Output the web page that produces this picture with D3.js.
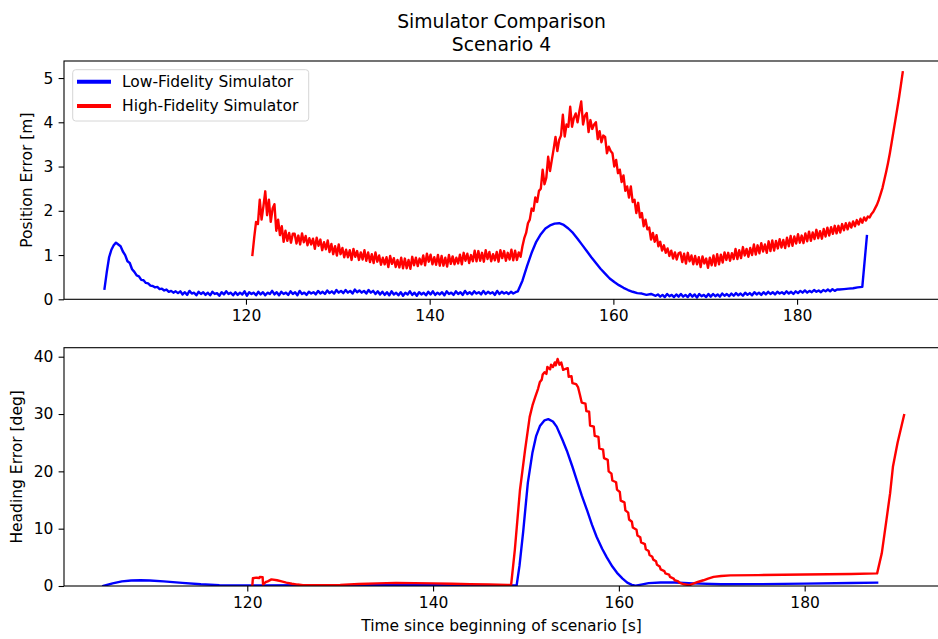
<!DOCTYPE html>
<html>
<head>
<meta charset="utf-8">
<script src="https://cdn.jsdelivr.net/npm/d3@7"></script>
<style>
	body { margin: 0; background: #fff; }
	svg { display: block; font-family: "DejaVu Sans", sans-serif; }
</style>
</head>
<body>
<svg id="chart" width="938" height="639"></svg>
<script>
// position error, low fidelity: pieces of a regular time grid (start, step, values)
let lowPosDecay = [
	0.24, 0.62, 0.95, 1.12, 1.22, 1.28, 1.24, 1.20, 1.08, 1.00,
	0.86, 0.82, 0.68, 0.62, 0.54, 0.52, 0.44, 0.43, 0.37, 0.36,
	0.31, 0.30, 0.27, 0.28, 0.23, 0.24, 0.20, 0.22, 0.17, 0.19,
	0.15, 0.18, 0.14
];
let lowPosFlat = [
	0.18, 0.11, 0.16, 0.10, 0.19, 0.13, 0.15, 0.09, 0.17, 0.12, 0.16, 0.10,
	0.15, 0.09, 0.17, 0.12, 0.14, 0.08, 0.16, 0.11, 0.18, 0.12, 0.15, 0.09,
	0.16, 0.10, 0.15, 0.11, 0.18, 0.08, 0.16, 0.12, 0.15, 0.09, 0.17, 0.11,
	0.16, 0.09, 0.15, 0.12, 0.19, 0.11, 0.16, 0.09, 0.17, 0.12, 0.15, 0.10,
	0.18, 0.12, 0.16, 0.09, 0.19, 0.12, 0.15, 0.10, 0.17, 0.13, 0.16, 0.11,
	0.19, 0.13, 0.17, 0.12, 0.20, 0.14, 0.18, 0.13, 0.21, 0.15, 0.19, 0.14,
	0.21, 0.15, 0.19, 0.13, 0.22, 0.16, 0.20, 0.15, 0.19, 0.13, 0.21, 0.15,
	0.19, 0.12, 0.18, 0.11, 0.17, 0.10, 0.16, 0.09, 0.18, 0.11, 0.15, 0.09,
	0.16, 0.08, 0.15, 0.11, 0.18, 0.10, 0.15, 0.08, 0.16, 0.11, 0.15, 0.09,
	0.17, 0.11, 0.18, 0.10, 0.15, 0.11, 0.16, 0.09, 0.18, 0.12, 0.15, 0.10,
	0.18, 0.12, 0.16, 0.10, 0.19, 0.12, 0.16, 0.11, 0.18, 0.13, 0.16, 0.11,
	0.19, 0.12, 0.17, 0.13, 0.16, 0.10, 0.19, 0.12, 0.17, 0.13, 0.16, 0.12,
	0.17, 0.13, 0.16, 0.18
];
let lowPosHump = [
	0.42, 0.75, 1.05, 1.30, 1.47, 1.60, 1.67, 1.71, 1.72, 1.68,
	1.60, 1.50, 1.37, 1.23, 1.09, 0.95, 0.82, 0.69, 0.58, 0.47,
	0.39, 0.32, 0.26, 0.21, 0.17, 0.14, 0.13, 0.10, 0.12, 0.08
];
let lowPosLate = [
	0.11, 0.06, 0.10, 0.05, 0.12, 0.07, 0.10, 0.05, 0.11, 0.06, 0.12, 0.06,
	0.10, 0.05, 0.12, 0.06, 0.11, 0.04, 0.12, 0.07, 0.10, 0.05, 0.12, 0.06,
	0.12, 0.07, 0.11, 0.06, 0.13, 0.08, 0.12, 0.07, 0.13, 0.08, 0.14, 0.09,
	0.13, 0.08, 0.15, 0.10, 0.14, 0.09, 0.16, 0.11, 0.15, 0.10, 0.16, 0.11,
	0.17, 0.12, 0.16, 0.11, 0.17, 0.13, 0.16, 0.12, 0.18, 0.13, 0.17, 0.12,
	0.18, 0.14, 0.19, 0.15, 0.20, 0.15, 0.19, 0.16, 0.21, 0.17, 0.20, 0.16,
	0.21, 0.18, 0.22, 0.18, 0.23, 0.19, 0.22
];
let lowPosEnd = [0.22, 0.23, 0.24, 0.25, 0.27, 0.28, 1.43];

// position error, high fidelity
let highPosStart = [
	1.00, 1.40, 1.75, 1.70, 2.25, 1.80, 2.10, 2.44, 1.90, 2.25,
	1.75, 2.05, 2.15, 1.55, 1.80, 1.45, 1.65, 1.30, 1.55, 1.32,
	1.50, 1.28, 1.48
];
let highPosFlat = [
	1.48, 1.26, 1.44, 1.24, 1.49, 1.29, 1.43, 1.22, 1.38, 1.24,
	1.37, 1.14, 1.39, 1.21, 1.35, 1.11, 1.29, 1.13, 1.33, 1.07,
	1.25, 1.02, 1.20, 0.99, 1.24, 1.02, 1.16, 0.95, 1.12, 0.95,
	1.11, 0.89, 1.14, 0.96, 1.09, 0.89, 1.06, 0.90, 1.11, 0.87,
	1.06, 0.84, 1.02, 0.82, 1.06, 0.85, 0.99, 0.78, 0.94, 0.79,
	0.95, 0.73, 0.98, 0.80, 0.93, 0.73, 0.89, 0.72, 0.94, 0.70,
	0.92, 0.70, 0.89, 0.69, 0.96, 0.77, 0.94, 0.75, 0.92, 0.79,
	0.99, 0.77, 1.03, 0.85, 1.01, 0.79, 0.95, 0.78, 1.00, 0.76,
	0.98, 0.76, 0.94, 0.74, 1.00, 0.80, 0.97, 0.79, 0.94, 0.81,
	1.01, 0.79, 1.05, 0.87, 1.03, 0.82, 1.00, 0.86, 1.10, 0.86,
	1.09, 0.87, 1.05, 0.85, 1.11, 0.91, 1.07, 0.86, 1.02, 0.88,
	1.07, 0.85, 1.11, 0.93, 1.09, 0.87, 1.05, 0.90, 1.12, 0.88,
	1.10, 0.89, 1.06, 0.96
];
let highPosHump = [
	1.20, 1.38, 1.50, 1.72, 1.80, 2.05, 2.00, 2.30, 2.20, 2.45,
	2.50, 2.93, 2.60, 2.75, 3.22, 2.90, 3.15, 3.40, 3.67, 3.35,
	3.60, 3.70, 4.17, 3.68, 3.95, 3.90, 4.35, 3.90, 4.10, 4.20,
	4.00, 4.25, 4.47, 3.95, 4.15, 4.21, 3.78, 4.05, 3.85, 3.95,
	4.00, 3.62, 3.80, 3.55, 3.70, 3.67, 3.30, 3.45, 3.35, 3.30,
	3.00, 3.15, 2.85, 2.93, 2.65, 2.80, 2.45, 2.55, 2.30, 2.55,
	2.20, 2.25, 1.95, 2.18, 1.85, 1.95, 1.65, 1.80, 1.58, 1.62,
	1.35, 1.50, 1.30, 1.45, 1.20, 1.30, 1.10, 1.22, 1.05, 1.15,
	0.98, 1.10, 0.92, 1.06, 0.90, 1.04
];
let highPosLate = [
	1.06, 0.84, 1.03, 0.81, 1.05, 0.86, 0.99, 0.79, 0.98, 0.79,
	0.95, 0.73, 0.97, 0.81, 0.92, 0.71, 0.94, 0.77, 0.99, 0.76,
	1.02, 0.79, 1.01, 0.83, 1.06, 0.89, 1.05, 0.87, 1.04, 0.91,
	1.14, 0.91, 1.11, 0.93, 1.18, 0.99, 1.14, 0.96, 1.16, 1.00,
	1.24, 1.01, 1.22, 1.04, 1.27, 1.08, 1.24, 1.05, 1.31, 1.09,
	1.33, 1.10, 1.32, 1.15, 1.36, 1.17, 1.34, 1.16, 1.39, 1.20,
	1.43, 1.21, 1.42, 1.26, 1.47, 1.28, 1.44, 1.27, 1.49, 1.31,
	1.53, 1.32, 1.51, 1.36, 1.57, 1.38, 1.54, 1.37, 1.59, 1.42,
	1.62, 1.44, 1.63, 1.48, 1.66, 1.49, 1.66, 1.51, 1.70, 1.56,
	1.72, 1.58, 1.73, 1.62, 1.76, 1.65, 1.79, 1.69, 1.82, 1.73,
	1.85, 1.78, 1.87, 1.85
];
let highPosEnd = [
	1.93, 1.98, 2.06, 2.14, 2.25, 2.38, 2.52, 2.70, 2.88, 3.08,
	3.30, 3.55, 3.80, 4.05, 4.30, 4.56, 4.84, 5.13
];

// heading error
let lowHeadTime = [
	104.5, 105.5, 106.5, 107.5, 108.5, 109.5, 111, 113, 115, 117,
	119, 122, 126, 130, 135, 140, 145, 148, 149.0, 149.3,
	149.7, 150.2, 150.7, 151.1, 151.5, 152.0, 152.4, 152.9, 153.3, 153.9,
	154.4, 155.0, 155.5, 156.0, 156.6, 157.1, 157.6, 158.2, 158.7, 159.3,
	159.8, 160.4, 160.9, 161.4, 161.8, 162.4, 163.2, 164.5, 166, 168,
	171, 175, 180, 185, 187.8
];
let lowHead = [
	0.0, 0.45, 0.8, 0.95, 1.0, 0.95, 0.8, 0.55, 0.3, 0.15,
	0.1, 0.1, 0.12, 0.15, 0.15, 0.12, 0.1, 0.1, 0.15, 3.5,
	9.5, 18.0, 23.3, 26.2, 27.9, 28.9, 29.1, 28.7, 27.8, 25.6,
	23.6, 20.8, 18.3, 15.8, 13.1, 10.7, 8.6, 6.5, 5.0, 3.4,
	2.3, 1.3, 0.6, 0.2, 0.05, 0.25, 0.5, 0.62, 0.6, 0.45,
	0.3, 0.32, 0.42, 0.52, 0.58
];

let highHeadTime = [
	120.55, 120.6, 121.0, 121.3, 121.35, 121.65, 121.7, 122.0, 122.2, 122.6,
	123.2, 123.7, 124.2, 124.8, 125.4, 126.0, 128.0, 130.0, 132.0, 134.0,
	136.0, 138.0, 140.0, 142.0, 144.0, 146.0, 148.0, 148.4, 148.8, 149.35,
	149.9, 150.4, 150.7, 151.0, 151.3, 151.5, 151.7, 151.8, 152.0, 152.2,
	152.3, 152.6, 152.7, 152.9, 153.1, 153.2, 153.4, 153.6, 153.8, 154.0,
	154.3, 154.5, 154.6, 154.9, 155.0, 155.4, 155.6, 155.8, 156.0, 156.4,
	156.5, 156.8, 156.9, 157.3, 157.4, 157.8, 157.9, 158.3, 158.4, 158.8,
	158.9, 159.2, 159.3, 159.7, 159.8, 160.1, 160.2, 160.6, 160.7, 161.0,
	161.1, 161.4, 161.5, 161.9, 162.0, 162.3, 162.4, 162.8, 162.9, 163.2,
	163.3, 163.6, 163.7, 164.0, 164.1, 164.4, 164.5, 164.9, 165.0, 165.4,
	165.5, 165.9, 166.0, 166.4, 166.5, 167.0, 167.6, 168.0, 168.5, 169.1,
	169.6, 170.2, 171.0, 172, 175, 180, 185, 187.8, 188.3, 188.8,
	189.2, 189.5, 190.0, 190.7
];
let highHead = [
	0.2, 1.35, 1.45, 1.4, 1.6, 1.55, 0.25, 0.7, 0.8, 1.15,
	1.0, 0.8, 0.6, 0.4, 0.25, 0.15, 0.15, 0.2, 0.35, 0.45,
	0.55, 0.5, 0.45, 0.38, 0.3, 0.25, 0.2, 0.2, 6.3, 16.7,
	23.7, 29.5, 31.5, 33.0, 34.4, 35.6, 36.0, 36.9, 37.3, 37.0,
	38.2, 37.8, 38.6, 38.2, 39.0, 38.5, 39.6, 38.6, 39.0, 37.7,
	37.9, 38.0, 36.5, 36.6, 35.4, 35.2, 34.7, 33.4, 32.0, 31.8,
	30.5, 30.4, 28.0, 27.8, 26.2, 26.0, 24.0, 23.8, 22.3, 22.0,
	20.0, 19.6, 18.4, 18.1, 16.8, 16.4, 14.9, 14.6, 13.2, 12.8,
	11.6, 11.2, 10.2, 9.8, 8.8, 8.5, 7.6, 7.3, 6.4, 6.1,
	5.4, 5.1, 4.6, 4.3, 3.7, 3.4, 2.9, 2.6, 2.2, 2.0,
	1.6, 1.3, 1.0, 0.8, 0.6, 0.3, 0.15, 0.4, 0.7, 1.0,
	1.3, 1.6, 1.75, 1.85, 1.9, 2.0, 2.1, 2.2, 5.7, 11.5,
	16.2, 20.8, 25.0, 29.8
];

let xTicks = [120, 140, 160, 180];
let posTicks = [0, 1, 2, 3, 4, 5];
let headTicks = [0, 10, 20, 30, 40];
let seriesNames = ["Low-Fidelity Simulator", "High-Fidelity Simulator"];
let seriesColors = ["#0000ff", "#ff0000"];

let fontSize = 15.5;

// glue grid pieces together: each piece is [start time, step, values]
function gridSeries(pieces){
	return pieces.flatMap(p => p[2].map((v, i) => ({"t": p[0] + i * p[1], "v": v})));
}

function pairSeries(times, values){
	return times.map((t, i) => ({"t": t, "v": values[i]}));
}

function drawPanel(svg, box, xDomain, yDomain, yTicksList, series, yTitle, yTitleX, id){
	let x = d3.scaleLinear().domain(xDomain).range([box.left, box.right]);
	let y = d3.scaleLinear().domain(yDomain).range([box.bottom, box.top]);

	svg.append("clipPath").attr("id", id)
		.append("rect")
		.attr("x", box.left).attr("y", box.top)
		.attr("width", box.right - box.left).attr("height", box.bottom - box.top);

	const line = d3.line()
		.x(d => x(d.t))
		.y(d => y(d.v));

	svg.append("g")
		.attr("clip-path", "url(#" + id + ")")
		.attr("fill", "none")
		.attr("stroke-width", 2.4)
		.attr("stroke-linejoin", "round")
		.attr("stroke-linecap", "square")
		.selectAll("path")
		.data(series)
		.join("path")
		.attr("stroke", (d, i) => seriesColors[i])
		.attr("d", d => line(d));

	let axisX = svg.append("g")
		.attr("transform", "translate(0," + box.bottom + ")")
		.call(d3.axisBottom(x).tickValues(xTicks).tickSize(5.4).tickPadding(5.2).tickFormat(d3.format("d")));
	let axisY = svg.append("g")
		.attr("transform", "translate(" + box.left + ",0)")
		.call(d3.axisLeft(y).tickValues(yTicksList).tickSize(5.4).tickPadding(5.2).tickFormat(d3.format("d")));

	[axisX, axisY].forEach(function(g){
		g.select(".domain").remove();
		g.selectAll(".tick line").attr("stroke", "#000").attr("stroke-width", 1.1);
		g.selectAll(".tick text")
			.attr("fill", "#000")
			.attr("font-size", fontSize)
			.attr("font-family", "DejaVu Sans, sans-serif");
	});

	svg.append("rect")
		.attr("x", box.left).attr("y", box.top)
		.attr("width", box.right - box.left).attr("height", box.bottom - box.top)
		.attr("fill", "none")
		.attr("stroke", "#000")
		.attr("stroke-width", 1.1);

	svg.append("text")
		.attr("transform", "translate(" + yTitleX + "," + ((box.top + box.bottom) / 2) + ") rotate(-90)")
		.attr("text-anchor", "middle")
		.attr("dominant-baseline", "central")
		.attr("font-size", fontSize)
		.text(yTitle);
}

function drawLegend(svg){
	let g = svg.append("g").attr("class", "legend");
	g.append("rect")
		.attr("x", 72.7).attr("y", 69.7)
		.attr("width", 236).attr("height", 51.3)
		.attr("rx", 3)
		.attr("fill", "#fff").attr("fill-opacity", 0.8)
		.attr("stroke", "#d6d6d6").attr("stroke-width", 1);

	let items = g.selectAll("g.item")
		.data(seriesNames)
		.join("g")
		.attr("class", "item")
		.attr("transform", (d, i) => "translate(0," + (81.8 + i * 24.3) + ")");

	items.append("line")
		.attr("x1", 77).attr("x2", 111)
		.attr("stroke", (d, i) => seriesColors[i])
		.attr("stroke-width", 4);

	items.append("text")
		.attr("x", 122)
		.attr("dominant-baseline", "central")
		.attr("font-size", fontSize)
		.text(d => d);
}

let svg = d3.select("#chart");

let lowPosSeries = gridSeries([
	[104.6, 0.25, lowPosDecay],
	[112.85, 0.25, lowPosFlat],
	[150.1, 0.5, lowPosHump],
	[164.85, 0.25, lowPosLate],
	[184.6, 0.5, lowPosEnd]
]);
let highPosSeries = gridSeries([
	[120.7, 0.2, highPosStart],
	[125.3, 0.2, highPosFlat],
	[150.1, 0.2, highPosHump],
	[167.3, 0.2, highPosLate],
	[188.1, 0.2, highPosEnd]
]);

drawPanel(svg, {"left": 64, "right": 939, "top": 61, "bottom": 299.3},
	[100.19, 195.45], [0, 5.385], posTicks,
	[lowPosSeries, highPosSeries],
	"Position Error [m]", 26.5, "clipTop");

drawPanel(svg, {"left": 64, "right": 939, "top": 347.7, "bottom": 586},
	[100.27, 194.46], [0, 41.57], headTicks,
	[pairSeries(lowHeadTime, lowHead), pairSeries(highHeadTime, highHead)],
	"Heading Error [deg]", 16.7, "clipBottom");

drawLegend(svg);

svg.append("text")
	.attr("x", 501.5).attr("y", 28.3)
	.attr("text-anchor", "middle")
	.attr("font-size", 18.75)
	.text("Simulator Comparison");
svg.append("text")
	.attr("x", 501.5).attr("y", 50.8)
	.attr("text-anchor", "middle")
	.attr("font-size", 18.75)
	.text("Scenario 4");

svg.append("text")
	.attr("x", 501.5).attr("y", 631.3)
	.attr("text-anchor", "middle")
	.attr("font-size", fontSize)
	.text("Time since beginning of scenario [s]");
</script>
</body>
</html>
